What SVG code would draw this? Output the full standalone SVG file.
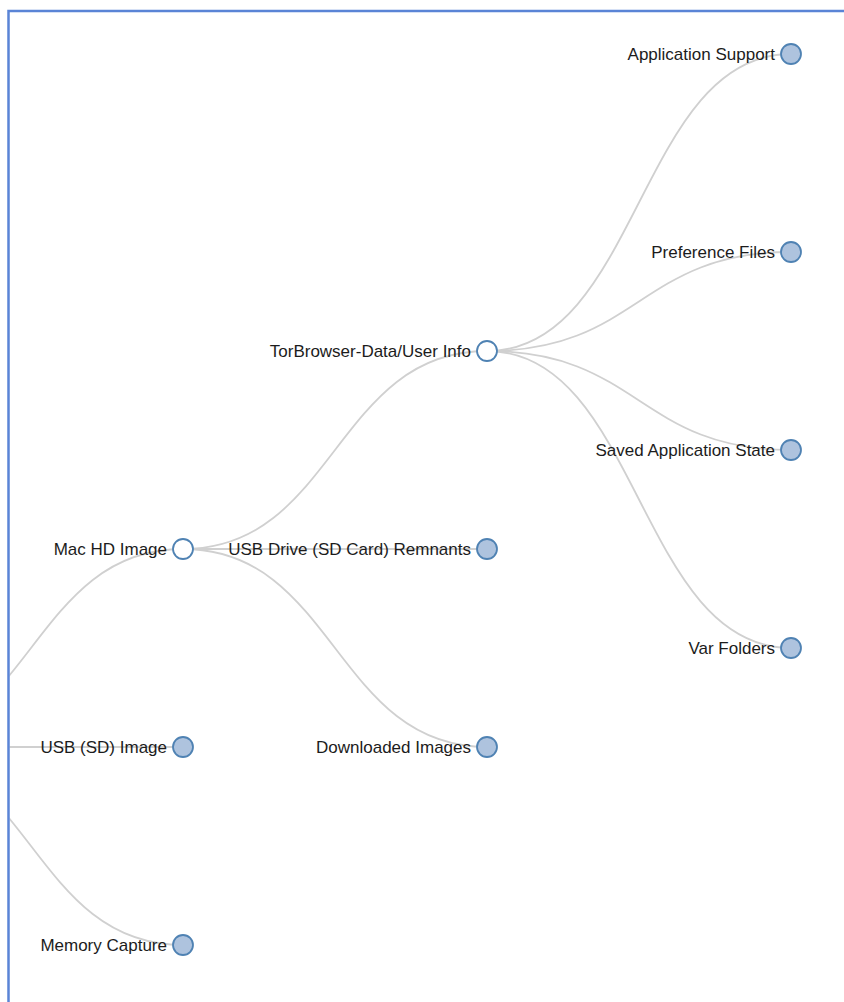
<svg xmlns="http://www.w3.org/2000/svg" width="844" height="1002" viewBox="0 0 844 1002">
  <style>
    .link { fill: none; stroke: #d0d0d0; stroke-width: 1.8; }
    .node circle { stroke: #4f82b3; stroke-width: 1.8; fill: #aec3de; }
    .node.open circle { fill: #ffffff; }
    .node text { font-family: "Liberation Sans", Arial, Helvetica, sans-serif; font-size: 17px; fill: #1c1c1c; text-anchor: end; }
    .frame { fill: none; stroke: #5a84d6; stroke-width: 2.5; }
  </style>
  <defs>
    <clipPath id="panel">
      <rect x="9.5" y="12" width="840" height="995"/>
    </clipPath>
  </defs>
  <rect width="844" height="1002" fill="#ffffff"/>

  <!-- tree links (horizontal diagonals); the root sits off the left edge at (-121, 747) -->
  <g id="links" clip-path="url(#panel)">
    <path class="link" d="M-121,747 C31,747 31,549 183,549"/>
    <path class="link" d="M-121,747 C31,747 31,747 183,747"/>
    <path class="link" d="M-121,747 C31,747 31,945 183,945"/>
    <path class="link" d="M183,549 C335,549 335,351 487,351"/>
    <path class="link" d="M183,549 C335,549 335,549 487,549"/>
    <path class="link" d="M183,549 C335,549 335,747 487,747"/>
    <path class="link" d="M487,351 C639,351 639,54 791,54"/>
    <path class="link" d="M487,351 C639,351 639,252 791,252"/>
    <path class="link" d="M487,351 C639,351 639,450 791,450"/>
    <path class="link" d="M487,351 C639,351 639,648 791,648"/>
  </g>

  <!-- level 1 -->
  <g id="node-mac-hd-image" class="node open" transform="translate(183,549)">
    <circle r="10"/>
    <text x="-16" dy="6">Mac HD Image</text>
  </g>
  <g id="node-usb-sd-image" class="node" transform="translate(183,747)">
    <circle r="10"/>
    <text x="-16" dy="6">USB (SD) Image</text>
  </g>
  <g id="node-memory-capture" class="node" transform="translate(183,945)">
    <circle r="10"/>
    <text x="-16" dy="6">Memory Capture</text>
  </g>

  <!-- level 2 -->
  <g id="node-torbrowser-data" class="node open" transform="translate(487,351)">
    <circle r="10"/>
    <text x="-16" dy="6">TorBrowser-Data/User Info</text>
  </g>
  <g id="node-usb-drive-remnants" class="node" transform="translate(487,549)">
    <circle r="10"/>
    <text x="-16" dy="6">USB Drive (SD Card) Remnants</text>
  </g>
  <g id="node-downloaded-images" class="node" transform="translate(487,747)">
    <circle r="10"/>
    <text x="-16" dy="6">Downloaded Images</text>
  </g>

  <!-- level 3 -->
  <g id="node-application-support" class="node" transform="translate(791,54)">
    <circle r="10"/>
    <text x="-16" dy="6">Application Support</text>
  </g>
  <g id="node-preference-files" class="node" transform="translate(791,252)">
    <circle r="10"/>
    <text x="-16" dy="6">Preference Files</text>
  </g>
  <g id="node-saved-application-state" class="node" transform="translate(791,450)">
    <circle r="10"/>
    <text x="-16" dy="6">Saved Application State</text>
  </g>
  <g id="node-var-folders" class="node" transform="translate(791,648)">
    <circle r="10"/>
    <text x="-16" dy="6">Var Folders</text>
  </g>

  <!-- panel frame -->
  <path class="frame" d="M8.5,1002 V11 H844"/>
</svg>
